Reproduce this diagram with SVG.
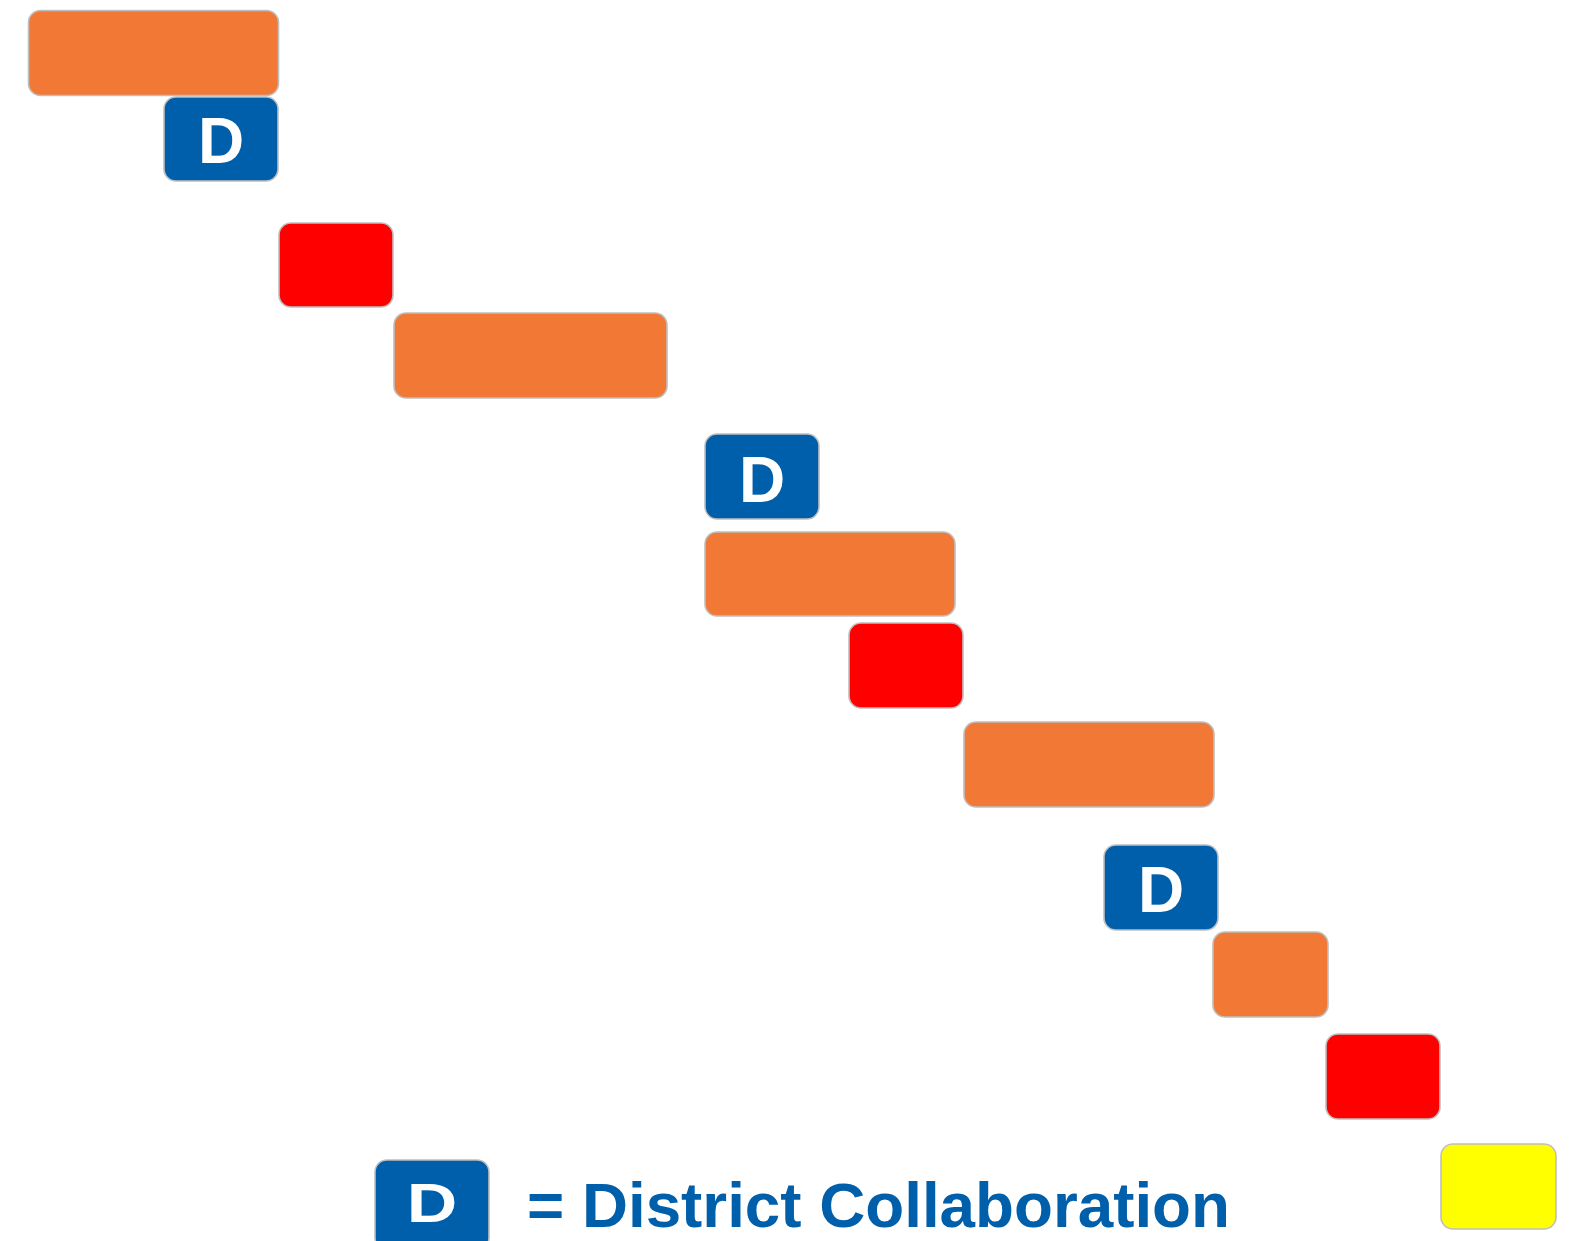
<svg xmlns="http://www.w3.org/2000/svg" width="1572" height="1241" viewBox="0 0 1572 1241">
<style>
.box{stroke:#BFBFBF;stroke-width:1.6}
.or{fill:#F27836}
.rd{fill:#FF0000}
.yl{fill:#FFFF00}
.bl{fill:#005FAA}
.d{font-family:"Liberation Sans",Arial,sans-serif;font-weight:bold;font-size:64px;fill:#FFFFFF;text-anchor:middle}
.leg{font-family:"Liberation Sans",Arial,sans-serif;font-weight:bold;font-size:63px;fill:#005FAA}
</style>
<rect width="1572" height="1241" fill="#FFFFFF"/>
<g id="connectors"/>
<g id="n1"><rect class="box or" x="28.5" y="10.5" width="250" height="85" rx="12"/></g>
<g id="n2"><rect class="box bl" x="164" y="97" width="114" height="84" rx="12"/><text class="d" x="221" y="163">D</text></g>
<g id="n3"><rect class="box rd" x="279" y="223" width="114" height="84" rx="12"/></g>
<g id="n4"><rect class="box or" x="394" y="313" width="273" height="85" rx="12"/></g>
<g id="n5"><rect class="box bl" x="705" y="434" width="114" height="85" rx="12"/><text class="d" x="762" y="502">D</text></g>
<g id="n6"><rect class="box or" x="705" y="532" width="250" height="84" rx="12"/></g>
<g id="n7"><rect class="box rd" x="849" y="623" width="114" height="85" rx="12"/></g>
<g id="n8"><rect class="box or" x="964" y="722" width="250" height="85" rx="12"/></g>
<g id="n9"><rect class="box bl" x="1104" y="845" width="114" height="85" rx="12"/><text class="d" x="1161" y="912">D</text></g>
<g id="n10"><rect class="box or" x="1213" y="932" width="115" height="85" rx="12"/></g>
<g id="n11"><rect class="box rd" x="1326" y="1034" width="114" height="85" rx="12"/></g>
<g id="n12"><rect class="box yl" x="1441" y="1144" width="115" height="85" rx="12"/></g>
<g id="legend">
<rect class="box bl" x="375" y="1160" width="114" height="90" rx="12"/>
<text class="d" style="font-size:56px" transform="translate(432,1222) scale(1.25,1)" x="0" y="0">D</text>
<text class="leg" x="527" y="1227" textLength="703" lengthAdjust="spacingAndGlyphs">= District Collaboration</text>
</g>
</svg>
